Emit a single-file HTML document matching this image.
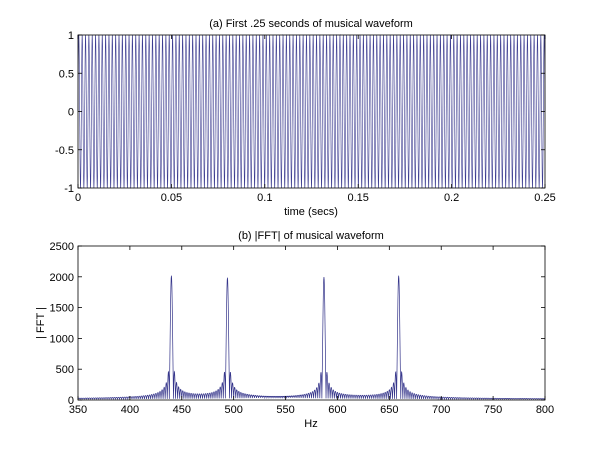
<!DOCTYPE html>
<html><head><meta charset="utf-8"><style>
html,body{margin:0;padding:0;background:#fff;}
svg text{font-family:"Liberation Sans",Arial,sans-serif;font-size:11px;fill:#000;}
</style></head><body>
<svg id="s" width="600" height="471" xmlns="http://www.w3.org/2000/svg">
<rect width="600" height="471" fill="#fff"/>
<path id="w1" fill="none" stroke="#3c3c90" stroke-width="0.6"/>
<path id="w2" fill="none" stroke="#34348a" stroke-width="0.7"/>
<g id="ax"></g>
<text x="311" y="27" text-anchor="middle">(a) First .25 seconds of musical waveform</text>
<text x="311" y="215" text-anchor="middle">time (secs)</text>
<text x="311" y="239" text-anchor="middle">(b) |FFT| of musical waveform</text>
<text x="311" y="427" text-anchor="middle">Hz</text>
<text transform="translate(44,323) rotate(-90)" text-anchor="middle">| FFT |</text>
</svg>
<script>
var NS="http://www.w3.org/2000/svg",ax=document.getElementById('ax');
function el(t,a,txt){var e=document.createElementNS(NS,t);for(var k in a)e.setAttribute(k,a[k]);if(txt!=null)e.textContent=txt;ax.appendChild(e);}
var L=78,R=545;
function axes(T,B,xt,xl,yt,yl){
 el('rect',{x:L,y:T,width:R-L,height:B-T,fill:'none',stroke:'#000','stroke-width':0.8});
 xt.forEach(function(v,i){var x=L+(R-L)*i/(xt.length-1);
  el('line',{x1:x,y1:B,x2:x,y2:B-4,stroke:'#000','stroke-width':0.8});
  el('line',{x1:x,y1:T,x2:x,y2:T+4,stroke:'#000','stroke-width':0.8});
  el('text',{x:x,y:B+13,'text-anchor':'middle'},xl[i]);});
 yt.forEach(function(v,i){var y=B-(B-T)*i/(yt.length-1);
  el('line',{x1:L,y1:y,x2:L+4,y2:y,stroke:'#000','stroke-width':0.8});
  el('line',{x1:R,y1:y,x2:R-4,y2:y,stroke:'#000','stroke-width':0.8});
  el('text',{x:L-4,y:y+4,'text-anchor':'end'},yl[i]);});
}
axes(35,188,[0,1,2,3,4,5],['0','0.05','0.1','0.15','0.2','0.25'],[0,1,2,3,4],['-1','-0.5','0','0.5','1']);
axes(246,400,[0,1,2,3,4,5,6,7,8,9],['350','400','450','500','550','600','650','700','750','800'],[0,1,2,3,4,5],['0','500','1000','1500','2000','2500']);
var d='',N=6000;
for(var i=0;i<=N;i++){var t=0.25*i/N;var v=Math.sin(2*Math.PI*558*t);
 var x=L+(R-L)*t/0.25,y=111.5-v*76.5;d+=(i?'L':'M')+x.toFixed(2)+' '+y.toFixed(2);}
document.getElementById('w1').setAttribute('d',d);
var pk=[[440,2000],[494,1960],[587,1970],[659,2000]];d='';
for(var f=350,i=0;f<=800;f+=0.25,i++){var s=5;
 pk.forEach(function(p){var x=(f-p[0])*0.5;var v=Math.abs(x)<1e-6?1:Math.abs(Math.sin(Math.PI*x)/(Math.PI*x));
  var r=Math.abs(x)<1e-6?1:Math.max(v,0.6/(Math.PI*Math.abs(x))*Math.abs(Math.sin(Math.PI*x)));s+=p[1]*r;});
 s=Math.min(s,2500);var X=L+(R-L)*(f-350)/450,Y=400-s*154/2500;d+=(i?'L':'M')+X.toFixed(2)+' '+Y.toFixed(2);}
document.getElementById('w2').setAttribute('d',d);
</script>
</body></html>
